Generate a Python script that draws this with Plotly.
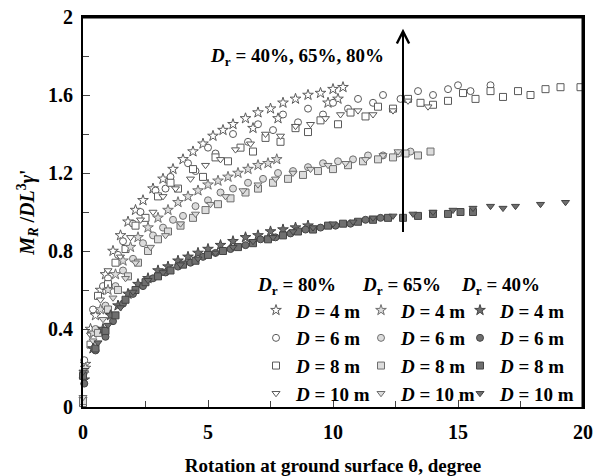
import plotly.graph_objects as go

# ---------------- data ----------------
# Dr = 80 %
x80_4 = [0.1,0.3,0.5,0.7,0.9,1.2,1.5,1.8,2.1,2.4,2.8,3.2,3.6,4.0,4.4,4.8,5.2,5.6,6.0,6.5,6.8,7.0,7.5,7.8,8.0,8.5,9.0,9.5,9.8,10.0,10.2,10.4]
y80_4 = [0.22,0.40,0.47,0.60,0.68,0.80,0.88,0.95,1.01,1.06,1.12,1.17,1.22,1.27,1.31,1.35,1.39,1.42,1.45,1.48,1.43,1.51,1.53,1.48,1.56,1.58,1.60,1.61,1.56,1.63,1.58,1.64]
x80_6 = [0.05,0.4,0.8,1.0,1.4,1.6,2.0,2.3,2.9,3.3,3.5,4.2,4.5,5.0,5.3,6.0,6.6,7.0,7.6,8.0,8.6,9.0,9.6,10.0,10.6,11.0,11.6,12.0,12.7,13.4,14.0,14.6,15.0,15.5,16.3]
y80_6 = [0.24,0.50,0.62,0.66,0.78,0.85,0.94,1.00,1.11,1.12,1.18,1.25,1.21,1.33,1.30,1.40,1.36,1.45,1.42,1.50,1.46,1.53,1.50,1.56,1.53,1.58,1.56,1.60,1.58,1.62,1.60,1.63,1.65,1.62,1.65]
x80_8 = [0.0,0.3,0.6,1.0,1.3,1.7,2.1,2.5,3.0,3.5,3.8,4.4,4.8,5.3,5.8,6.3,6.8,7.3,7.9,8.5,9.0,9.5,10.2,10.7,11.3,11.8,12.4,13.0,13.5,14.0,14.6,15.2,15.7,16.3,16.8,17.4,17.9,18.5,19.1,19.9]
y80_8 = [0.02,0.32,0.57,0.63,0.74,0.81,0.93,0.97,1.08,1.15,1.12,1.22,1.18,1.28,1.26,1.33,1.31,1.38,1.36,1.43,1.41,1.47,1.45,1.51,1.49,1.54,1.53,1.58,1.56,1.55,1.57,1.61,1.58,1.62,1.59,1.62,1.60,1.63,1.64,1.64]
x80_10 = [0.0,0.3,0.7,1.0,1.5,1.9,2.3,2.8,3.2,3.7,4.3,4.9,5.5,6.1,6.7,7.3,7.9,8.5,9.1,9.7,10.3,11.0,11.6,12.4,13.0,13.8]
y80_10 = [0.04,0.37,0.55,0.70,0.77,0.87,0.96,1.00,1.08,1.12,1.17,1.24,1.27,1.32,1.35,1.40,1.39,1.44,1.45,1.48,1.50,1.52,1.50,1.52,1.57,1.54]

# Dr = 65 %
x65_4 = [0.1,0.4,0.7,1.0,1.3,1.6,1.9,2.2,2.6,3.0,3.4,3.8,4.2,4.6,5.0,5.4,5.8,6.2,6.6,7.0,7.4,7.75]
y65_4 = [0.20,0.38,0.50,0.60,0.68,0.75,0.82,0.87,0.92,0.97,1.01,1.05,1.08,1.11,1.14,1.16,1.18,1.20,1.22,1.24,1.25,1.27]
x65_6 = [0.05,0.5,0.9,1.3,1.6,2.0,2.4,2.8,3.2,3.6,4.0,4.5,5.0,5.5,6.0,6.6,7.2,7.8,8.4,9.0,9.6,10.2,10.8,11.4,12.0,12.6,13.1]
y65_6 = [0.18,0.40,0.52,0.62,0.70,0.76,0.84,0.88,0.92,0.96,0.98,1.03,1.06,1.10,1.12,1.15,1.17,1.20,1.21,1.23,1.25,1.26,1.27,1.29,1.29,1.30,1.31]
x65_8 = [0.0,0.6,1.0,1.4,1.8,2.2,2.6,3.0,3.4,3.9,4.4,4.9,5.4,5.9,6.5,7.0,7.6,8.2,8.8,9.4,10.0,10.6,11.2,11.8,12.4,12.9,13.4,13.9]
y65_8 = [0.03,0.38,0.50,0.60,0.67,0.74,0.80,0.86,0.90,0.93,0.97,1.01,1.04,1.07,1.10,1.12,1.15,1.17,1.19,1.21,1.22,1.24,1.26,1.27,1.28,1.30,1.29,1.31]
x65_10 = [0.0,0.4,0.8,1.2,1.7,2.1,2.7,3.3,3.9,4.5,5.1,5.7,6.4,7.0,7.7,8.4,9.1,9.8,10.5,11.3,12.0,12.6]
y65_10 = [0.05,0.34,0.45,0.56,0.66,0.74,0.82,0.88,0.94,0.99,1.04,1.08,1.11,1.14,1.17,1.20,1.22,1.24,1.25,1.27,1.29,1.31]

# Dr = 40 %
x40_4 = [0.05,0.4,0.8,1.1,1.4,1.8,2.2,2.6,3.0,3.4,3.8,4.2,4.6,5.0,5.5,6.0,6.5,7.0,7.5,8.0,8.5,9.0]
y40_4 = [0.14,0.30,0.40,0.47,0.52,0.58,0.63,0.66,0.70,0.72,0.75,0.77,0.79,0.81,0.83,0.85,0.87,0.88,0.90,0.91,0.92,0.93]
x40_6 = [0.05,0.5,0.9,1.2,1.6,2.0,2.4,2.8,3.3,3.8,4.3,4.8,5.3,5.9,6.5,7.1,7.7,8.3,8.9,9.5,10.1,10.7,11.3,11.9]
y40_6 = [0.12,0.29,0.36,0.44,0.53,0.58,0.62,0.66,0.69,0.72,0.74,0.77,0.79,0.81,0.83,0.86,0.87,0.89,0.91,0.92,0.93,0.94,0.96,0.97]
x40_8 = [0.0,0.5,0.9,1.3,1.7,2.1,2.5,3.0,3.5,4.0,4.5,5.0,5.6,6.2,6.8,7.4,8.0,8.6,9.2,9.8,10.4,11.0,11.6,12.2,12.8,13.4,14.0,14.6,15.1,15.6]
y40_8 = [0.16,0.30,0.39,0.47,0.55,0.60,0.64,0.67,0.70,0.73,0.75,0.78,0.80,0.82,0.84,0.86,0.88,0.90,0.91,0.93,0.94,0.95,0.96,0.97,0.97,0.98,0.99,0.99,1.00,1.00]
x40_10 = [0.0,0.6,1.0,1.5,2.0,2.6,3.2,3.9,4.6,5.3,6.0,6.8,7.6,8.4,9.2,10.0,10.8,11.6,12.4,13.2,14.0,14.8,15.6,16.3,16.8,17.3,18.3,19.3]
y40_10 = [0.18,0.33,0.42,0.51,0.59,0.65,0.69,0.73,0.76,0.79,0.82,0.85,0.87,0.90,0.92,0.94,0.95,0.97,0.98,0.99,1.00,1.01,1.02,1.03,1.02,1.03,1.04,1.05]

diameters = ["4", "6", "8", "10"]
symbols = ["star", "circle", "square", "triangle-down"]
groups = [
    ("80", [(x80_4, y80_4), (x80_6, y80_6), (x80_8, y80_8), (x80_10, y80_10)], "#ffffff", "#5a5a5a", "legend"),
    ("65", [(x65_4, y65_4), (x65_6, y65_6), (x65_8, y65_8), (x65_10, y65_10)], "#dcdcdc", "#6e6e6e", "legend2"),
    ("40", [(x40_4, y40_4), (x40_6, y40_6), (x40_8, y40_8), (x40_10, y40_10)], "#6f6f6f", "#444444", "legend3"),
]

FONT = "Liberation Serif"
fig = go.Figure()
for dr, series, fill, line, leg in groups:
    for (xs, ys), d, sym in zip(series, diameters, symbols):
        fig.add_trace(go.Scatter(
            x=xs, y=ys, mode="markers", cliponaxis=False,
            name=f"<b><i>D</i> = {d} m</b>", legend=leg,
            marker=dict(symbol=sym, size=7 if sym != "star" else 8, color=fill,
                        line=dict(color=line, width=1)),
        ))

leg_common = dict(bgcolor="rgba(0,0,0,0)", borderwidth=0, xanchor="left", yanchor="top",
                  font=dict(family=FONT, size=19, color="black"), itemwidth=30,
                  tracegroupgap=0)
def title(dr):
    return dict(text=f"<b><i>D</i><sub>r</sub> = {dr}%</b>", font=dict(family=FONT, size=19, color="black"))

fig.update_layout(
    width=594, height=476,
    margin=dict(l=83, r=11, t=17, b=69),
    paper_bgcolor="white", plot_bgcolor="white",
    font=dict(family=FONT, color="black"),
    legend=dict(x=0.346, y=0.36, title=title("80"), **leg_common),
    legend2=dict(x=0.556, y=0.36, title=title("65"), **leg_common),
    legend3=dict(x=0.754, y=0.36, title=title("40"), **leg_common),
)

fig.update_xaxes(range=[0, 20], dtick=5, tick0=0, ticks="inside", ticklen=7, tickwidth=1,
                 minor=dict(dtick=2.5, ticks="inside", ticklen=6, tickwidth=1),
                 showline=True, linecolor="black", linewidth=2, mirror=True,
                 showgrid=False, zeroline=False, automargin=False,
                 tickprefix="<b>", ticksuffix="</b>",
                 tickfont=dict(family=FONT, size=20, color="black"),
                 ticklabelstandoff=6,
                 title=dict(text="<b>Rotation at ground surface θ, degree</b>",
                            font=dict(family=FONT, size=19, color="black"), standoff=17))
fig.update_yaxes(range=[0, 2], dtick=0.4, tick0=0, ticks="inside", ticklen=7, tickwidth=1,
                 minor=dict(dtick=0.2, ticks="inside", ticklen=6, tickwidth=1),
                 showline=True, linecolor="black", linewidth=2, mirror=True,
                 showgrid=False, zeroline=False, tickformat="~g", automargin=False,
                 tickprefix="<b>", ticksuffix="</b>",
                 tickfont=dict(family=FONT, size=20, color="black"),
                 ticklabelstandoff=4,
                 title=dict(text="<b><i>M<sub>R</sub></i> /<i>DL</i><sup>3</sup><i>γ</i>'</b>",
                            font=dict(family=FONT, size=20, color="black"), standoff=8))

# plot frame (top and right edges)
fig.add_shape(type="line", xref="paper", yref="paper", x0=0, x1=1, y0=0.999, y1=0.999,
              line=dict(color="black", width=2), layer="above")
fig.add_shape(type="line", xref="paper", yref="paper", x0=0.999, x1=0.999, y0=0, y1=1,
              line=dict(color="black", width=2), layer="above")

fig.add_annotation(x=12.8, y=1.94, ax=12.8, ay=0.89, xref="x", yref="y", axref="x", ayref="y",
                   showarrow=True, arrowhead=5, arrowsize=1.2, arrowwidth=2, arrowcolor="black", text="")
fig.add_annotation(x=8.54, y=1.795, xref="x", yref="y", showarrow=False,
                   text="<b><i>D</i><sub>r</sub> = 40%, 65%, 80%</b>",
                   font=dict(family=FONT, size=19, color="black"))

fig.write_html("out.html", config={"displayModeBar": False},
               post_script="document.body.style.margin='0';document.body.style.overflow='hidden';")
